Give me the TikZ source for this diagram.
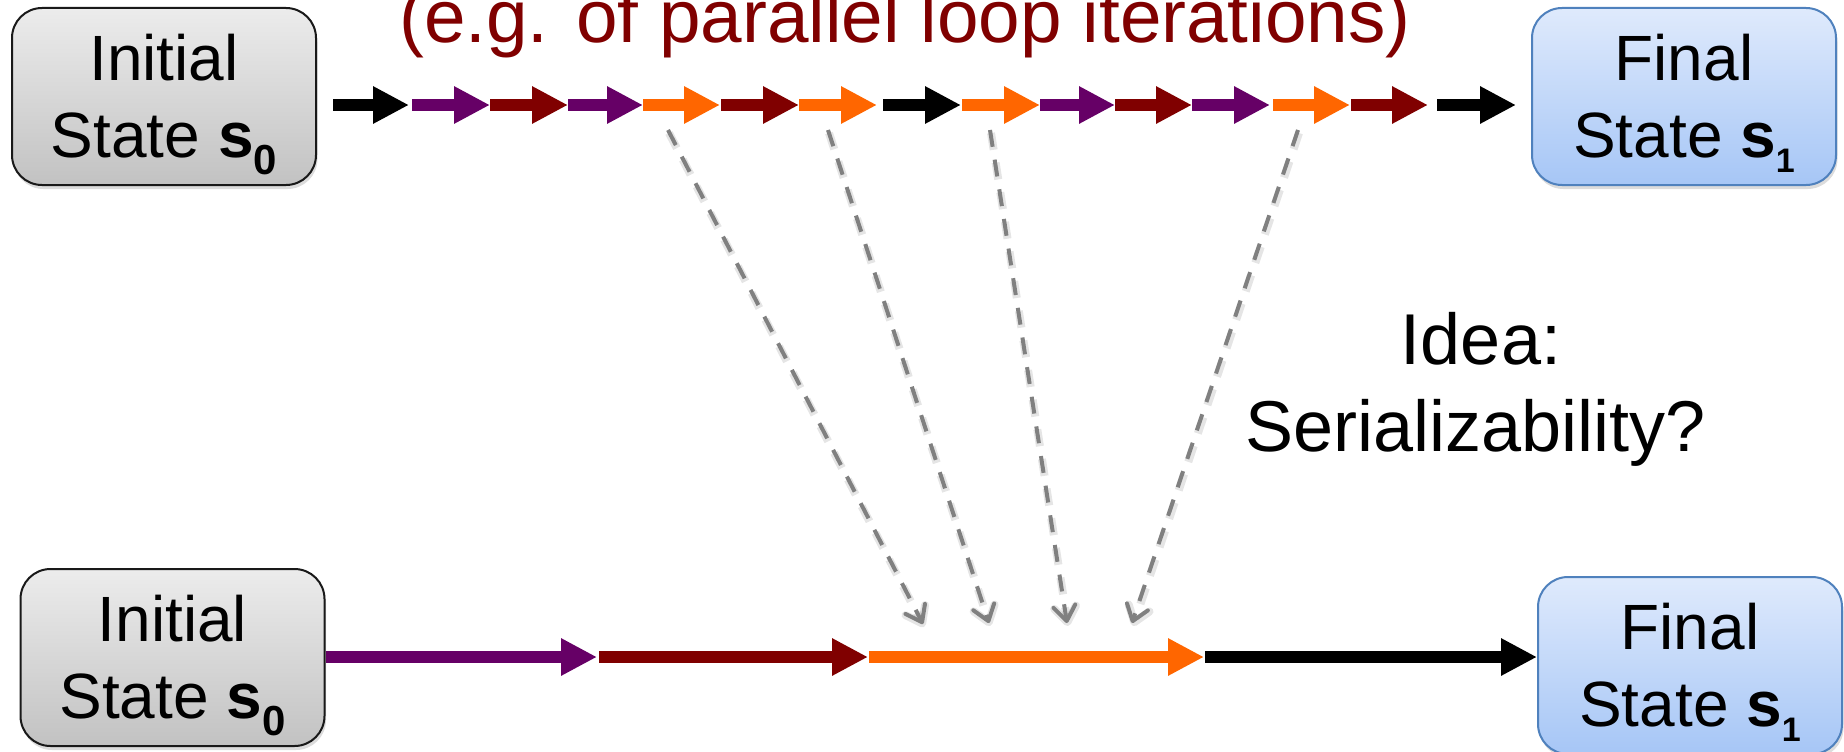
\documentclass[tikz,border=0pt]{standalone}
\usepackage{fontspec}
\setmainfont{Liberation Sans}
\usetikzlibrary{arrows.meta,shadows}

\definecolor{purp}{RGB}{102,0,102}
\definecolor{dred}{RGB}{128,0,0}
\definecolor{orng}{RGB}{255,102,0}
\definecolor{dashgray}{RGB}{128,128,128}
\definecolor{graytop}{RGB}{236,236,236}
\definecolor{graybot}{RGB}{194,194,194}
\definecolor{grayedge}{RGB}{25,25,25}
\definecolor{bluetop}{RGB}{223,234,252}
\definecolor{bluebot}{RGB}{166,198,246}
\definecolor{blueedge}{RGB}{79,129,189}

% subscripts of the state names
\newcommand{\subzero}{\raisebox{-17pt}[0pt][0pt]{\fontsize{42}{42}\selectfont\bfseries 0}}
\newcommand{\subone}{\raisebox{-15pt}[0pt][0pt]{\fontsize{34}{34}\selectfont\bfseries 1}}

\begin{document}
\begin{tikzpicture}[x=1pt,y=-1pt,
  seg/.style={line width=12pt,-{Triangle[length=36pt,width=35pt]}},
  state/.style={rounded corners=30pt, minimum width=304pt, minimum height=177pt,
    line width=2pt, align=center, inner sep=0pt,
    font=\fontsize{64}{77}\selectfont,
    drop shadow={opacity=0.28,shadow xshift=1.5pt,shadow yshift=-4pt}},
  initbox/.style={state, draw=grayedge, top color=graytop, bottom color=graybot},
  finbox/.style={state, draw=blueedge, top color=bluetop, bottom color=bluebot},
  maplink/.style={draw=dashgray, line width=4pt, dash pattern=on 17pt off 13pt,
    -{Straight Barb[length=15pt,width=22pt,round]}},
  maplinkshade/.style={draw=black, opacity=0.10, line width=8pt, dash pattern=on 17pt off 13pt,
    -{Straight Barb[length=15pt,width=22pt,round]}},
  bigtext/.style={font=\fontsize{72}{87}\selectfont, anchor=base, inner sep=0pt}
]
\useasboundingbox (0,0) rectangle (1844,752);
\clip (0,0) rectangle (1844,752);

% state boxes
\node[initbox] (i1) at (164,96.5) {Initial\\State \textbf{s}\subzero};
\node[finbox]  (f1) at (1684,96.5) {Final\\State \textbf{s}\subone};
\node[initbox] (i2) at (172.5,657.5) {Initial\\State \textbf{s}\subzero};
\node[finbox]  (f2) at (1690,665.5) {Final\\State \textbf{s}\subone};

% heading
\node[font=\fontsize{74.7}{90}\selectfont, text=dred, anchor=base, inner sep=0pt] (title)
  at (905,43) {(e.g. of parallel loop iterations)};

% interleaved execution
\coordinate (t1a) at (333,105);  \coordinate (t1b) at (409,105);
\coordinate (t2a) at (412,105);  \coordinate (t2b) at (490,105);
\coordinate (t3a) at (490,105);  \coordinate (t3b) at (568,105);
\coordinate (t4a) at (568,105);  \coordinate (t4b) at (643,105);
\coordinate (t5a) at (643,105);  \coordinate (t5b) at (720,105);
\coordinate (t6a) at (721,105);  \coordinate (t6b) at (799,105);
\coordinate (t7a) at (799,105);  \coordinate (t7b) at (877,105);
\coordinate (t8a) at (883,105);  \coordinate (t8b) at (961,105);
\coordinate (t9a) at (962,105);  \coordinate (t9b) at (1040,105);
\coordinate (t10a) at (1040,105); \coordinate (t10b) at (1115,105);
\coordinate (t11a) at (1115,105); \coordinate (t11b) at (1192,105);
\coordinate (t12a) at (1192,105); \coordinate (t12b) at (1270,105);
\coordinate (t13a) at (1273,105); \coordinate (t13b) at (1350,105);
\coordinate (t14a) at (1351,105); \coordinate (t14b) at (1428,105);
\coordinate (t15a) at (1437,105); \coordinate (t15b) at (1516,105);

\draw[seg,black] (t1a) -- (t1b);
\draw[seg,purp]  (t2a) -- (t2b);
\draw[seg,dred]  (t3a) -- (t3b);
\draw[seg,purp]  (t4a) -- (t4b);
\draw[seg,orng]  (t5a) -- (t5b);
\draw[seg,dred]  (t6a) -- (t6b);
\draw[seg,orng]  (t7a) -- (t7b);
\draw[seg,black] (t8a) -- (t8b);
\draw[seg,orng]  (t9a) -- (t9b);
\draw[seg,purp]  (t10a) -- (t10b);
\draw[seg,dred]  (t11a) -- (t11b);
\draw[seg,purp]  (t12a) -- (t12b);
\draw[seg,orng]  (t13a) -- (t13b);
\draw[seg,dred]  (t14a) -- (t14b);
\draw[seg,black] (t15a) -- (t15b);

% serial execution
\coordinate (b1) at (597,657);
\coordinate (b2a) at (599,657); \coordinate (b2b) at (868,657);
\coordinate (b3a) at (869,657); \coordinate (b3b) at (1204,657);
\coordinate (b4a) at (1205,657);

\draw[seg,purp]  (i2.east |- b1) -- (b1);
\draw[seg,dred]  (b2a) -- (b2b);
\draw[seg,orng]  (b3a) -- (b3b);
\draw[seg,black] (b4a) -- (b4a -| f2.west);

% orange steps mapped onto the serial run
\coordinate (u1) at (668,130);  \coordinate (v1) at (923,624);
\coordinate (u2) at (828,130);  \coordinate (v2) at (989,623);
\coordinate (u3) at (990,130);  \coordinate (v3) at (1067,623);
\coordinate (u4) at (1298,130); \coordinate (v4) at (1132,623);

\foreach \k in {1,2,3,4}{
  \draw[maplinkshade] ([shift={(1,3)}]u\k) -- ([shift={(1,3)}]v\k);
}
\draw[maplink] (u1) -- (v1);
\draw[maplink] (u2) -- (v2);
\draw[maplink] (u3) -- (v3);
\draw[maplink] (u4) -- (v4);

% question
\node[bigtext] (idea) at (1481,364) {Idea:};
\node[bigtext] (ser) at (1476,451) {Serializability?};
\end{tikzpicture}
\end{document}
